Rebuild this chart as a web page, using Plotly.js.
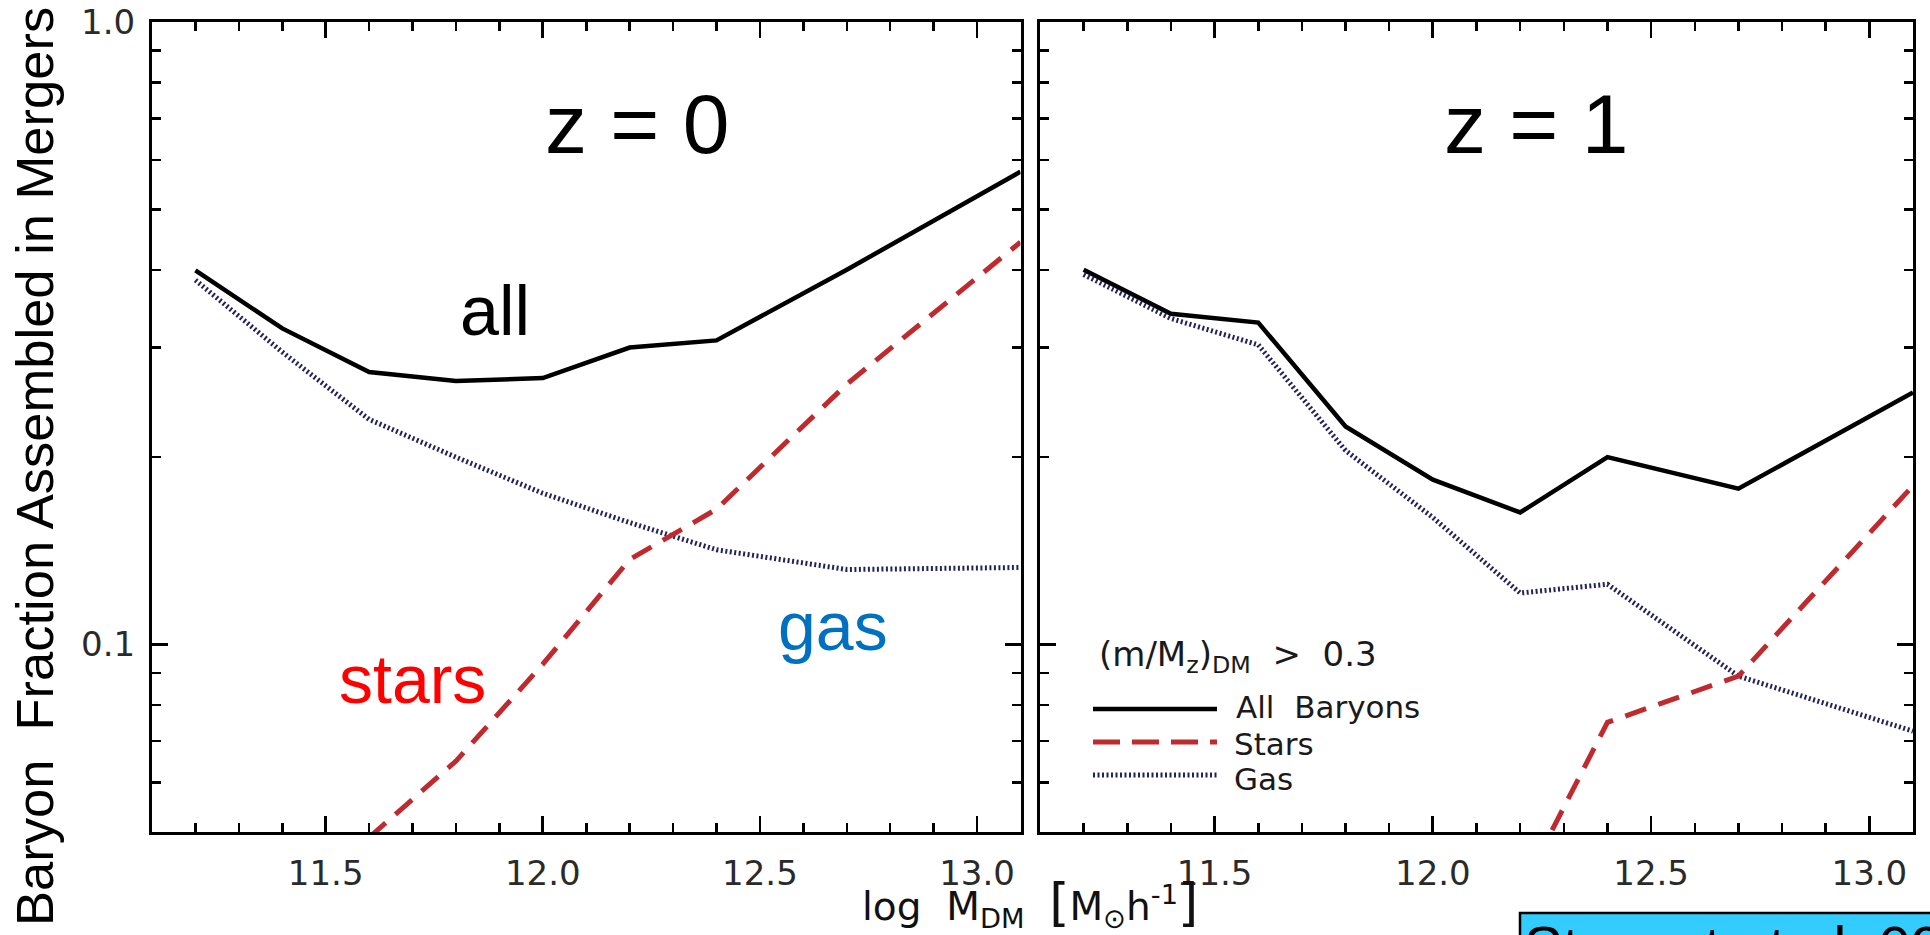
<!DOCTYPE html>
<html><head><meta charset="utf-8">
<script src="https://cdn.plot.ly/plotly-3.0.1.min.js"></script>
<style>html,body{margin:0;padding:0;background:#fff;overflow:hidden}</style>
</head><body><div id="chart" style="width:1930px;height:935px"></div>
<script>
// ---- data ----
const massZ0 = [11.2, 11.4, 11.6, 11.8, 12.0, 12.2, 12.4, 12.7, 13.1];
const allZ0  = [0.399, 0.322, 0.274, 0.265, 0.268, 0.300, 0.308, 0.400, 0.575];
const gasZ0  = [0.385, 0.295, 0.230, 0.200, 0.175, 0.157, 0.142, 0.132, 0.133];
const starMassZ0 = [11.6, 11.8, 12.0, 12.2, 12.4, 12.7, 13.1];
const starsZ0    = [0.049, 0.065, 0.093, 0.137, 0.165, 0.262, 0.443];

const massZ1 = [11.2, 11.4, 11.6, 11.8, 12.0, 12.2, 12.4, 12.7, 13.1];
const allZ1  = [0.400, 0.340, 0.329, 0.224, 0.184, 0.163, 0.200, 0.178, 0.254];
const gasZ1  = [0.393, 0.334, 0.303, 0.205, 0.160, 0.121, 0.125, 0.089, 0.0726];
const starMassZ1 = [12.2, 12.4, 12.7, 13.1];
const starsZ1    = [0.040, 0.075, 0.089, 0.180];

const xTickVals = [11.5, 12.0, 12.5, 13.0];
const xTickText = ['11.5', '12.0', '12.5', '13.0'];
const xMinorVals = [11.2, 11.3, 11.4, 11.6, 11.7, 11.8, 11.9, 12.1, 12.2, 12.3, 12.4, 12.6, 12.7, 12.8, 12.9];
const yTickVals = [0.1, 1.0];
const yTickText = ['0.1', '1.0'];
const yMinorVals = [0.06, 0.07, 0.08, 0.09, 0.2, 0.3, 0.4, 0.5, 0.6, 0.7, 0.8, 0.9];

const panelLabels = ['z = 0', 'z = 1'];
const legendTitle = '(m/M<sub>z</sub>)<sub>DM</sub>\u00A0 >\u00A0 0.3';
const legendNames = ['All\u00A0 Baryons', 'Stars', 'Gas'];

// ---- geometry ----
const W = 1930, H = 935, L = 152, R = 17, T = 22, B = 103;
const PW = W - L - R, PH = H - T - B;
const px = X => (X - L) / PW;
const py = Y => (H - B - Y) / PH;

const colAll = '#000000', colStars = '#bf2a2f', colGas = '#23235a';
const lineAll = {color: colAll, width: 4.5};
const lineStars = {color: colStars, width: 5, dash: '22px,13px'};
const lineGas = {color: colGas, width: 5, dash: '2px,2.5px'};

const traces = [
  {x: massZ0, y: allZ0, xaxis: 'x', yaxis: 'y', mode: 'lines', line: lineAll, name: 'All Baryons'},
  {x: massZ0, y: gasZ0, xaxis: 'x', yaxis: 'y', mode: 'lines', line: lineGas, name: 'Gas'},
  {x: starMassZ0, y: starsZ0, xaxis: 'x', yaxis: 'y', mode: 'lines', line: lineStars, name: 'Stars'},
  {x: massZ1, y: allZ1, xaxis: 'x2', yaxis: 'y2', mode: 'lines', line: lineAll, name: 'All Baryons'},
  {x: massZ1, y: gasZ1, xaxis: 'x2', yaxis: 'y2', mode: 'lines', line: lineGas, name: 'Gas'},
  {x: starMassZ1, y: starsZ1, xaxis: 'x2', yaxis: 'y2', mode: 'lines', line: lineStars, name: 'Stars'}
];

const tickFont = {family: 'DejaVu Sans', size: 34, color: '#2a2a2a'};
const axX = (domain, anchor) => ({
  domain: domain, anchor: anchor, range: [11.1, 13.1], type: 'linear',
  showline: true, linecolor: '#000', linewidth: 3, mirror: 'allticks',
  ticks: 'inside', ticklen: 16, tickwidth: 2.8, tickcolor: '#000',
  tickmode: 'array', tickvals: xTickVals, ticktext: xTickText,
  minor: {tickmode: 'array', tickvals: xMinorVals, ticks: 'inside', ticklen: 9, tickwidth: 2.5, tickcolor: '#000', showgrid: false},
  tickfont: tickFont, ticklabelstandoff: 9,
  showgrid: false, zeroline: false, fixedrange: true
});
const axY = (anchor, showLabels) => ({
  domain: [0, 1], anchor: anchor, type: 'log', range: [Math.log10(0.05), 0],
  showline: true, linecolor: '#000', linewidth: 3, mirror: 'allticks',
  ticks: 'inside', ticklen: 16, tickwidth: 2.8, tickcolor: '#000',
  tickmode: 'array', tickvals: yTickVals, ticktext: yTickText,
  minor: {tickmode: 'array', tickvals: yMinorVals, ticks: 'inside', ticklen: 9, tickwidth: 2.5, tickcolor: '#000', showgrid: false},
  tickfont: tickFont, showticklabels: showLabels, ticklabelstandoff: 7,
  showgrid: false, zeroline: false, fixedrange: true
});

const dLeft = [0, px(1020.5)], dRight = [px(1040), 1];

const ann = (text, X, Y, opts) => Object.assign({
  text: text, x: px(X), y: py(Y), xref: 'paper', yref: 'paper',
  showarrow: false, xanchor: 'center', yanchor: 'middle'
}, opts);

const arial = 'Liberation Sans, Arial, sans-serif';
const idl = 'DejaVu Sans, sans-serif';

const annotations = [
  ann(panelLabels[0], 637, 124, {font: {family: arial, size: 84, color: '#000'}}),
  ann(panelLabels[1], 1536, 124, {font: {family: arial, size: 84, color: '#000'}}),
  ann('all', 494.5, 310.5, {font: {family: arial, size: 70, color: '#000'}}),
  ann('stars', 412.5, 679, {font: {family: arial, size: 68, color: '#ff0000'}}),
  ann('gas', 832.5, 626, {font: {family: arial, size: 68, color: '#0070c0'}}),
  ann('Baryon\u00A0 Fraction Assembled in Mergers', 34, 467, {textangle: -90, font: {family: arial, size: 52.5, color: '#000'}}),
  ann('log\u00A0 M<sub>DM</sub>\u00A0 <span style="font-size:52px">[</span>M<sub>\u2299</sub>h<sup>-1</sup><span style="font-size:52px">]</span>', 1030, 903, {font: {family: idl, size: 39, color: '#111'}}),
  ann(legendTitle, 1097, 656, {xanchor: 'left', font: {family: idl, size: 34, color: '#1a1a1a'}}),
  ann(legendNames[0], 1234, 707, {xanchor: 'left', font: {family: idl, size: 31, color: '#1a1a1a'}}),
  ann(legendNames[1], 1232, 744, {xanchor: 'left', font: {family: idl, size: 31, color: '#1a1a1a'}}),
  ann(legendNames[2], 1232, 779, {xanchor: 'left', font: {family: idl, size: 31, color: '#1a1a1a'}}),
  ann('Stewart et al. 09', 1522, 946, {xanchor: 'left', font: {family: arial, size: 58, color: '#000'}})
];

const seg = (X0, X1, Y, line) => ({type: 'line', xref: 'paper', yref: 'paper',
  x0: px(X0), x1: px(X1), y0: py(Y), y1: py(Y), line: line});
const shapes = [
  seg(1093, 1217, 709, {color: colAll, width: 4.5}),
  seg(1093, 1217, 742, {color: colStars, width: 5, dash: '27px,12px'}),
  seg(1093, 1217, 775, {color: colGas, width: 5, dash: '2px,2.5px'}),
  {type: 'rect', xref: 'paper', yref: 'paper', x0: px(1520), x1: px(1950), y0: py(913), y1: py(990),
   fillcolor: '#33ccff', line: {color: '#000', width: 2.5}, layer: 'below'}
];

const layout = {
  width: W, height: H,
  margin: {l: L, r: R, t: T, b: B, pad: 0},
  paper_bgcolor: '#fff', plot_bgcolor: '#fff',
  showlegend: false,
  font: {family: arial, color: '#000'},
  xaxis: axX(dLeft, 'y'),
  yaxis: axY('x', true),
  xaxis2: axX(dRight, 'y2'),
  yaxis2: Object.assign(axY('x2', false), {matches: 'y'}),
  annotations: annotations,
  shapes: shapes
};

Plotly.newPlot('chart', traces, layout, {staticPlot: true, displayModeBar: false});
</script></body></html>
